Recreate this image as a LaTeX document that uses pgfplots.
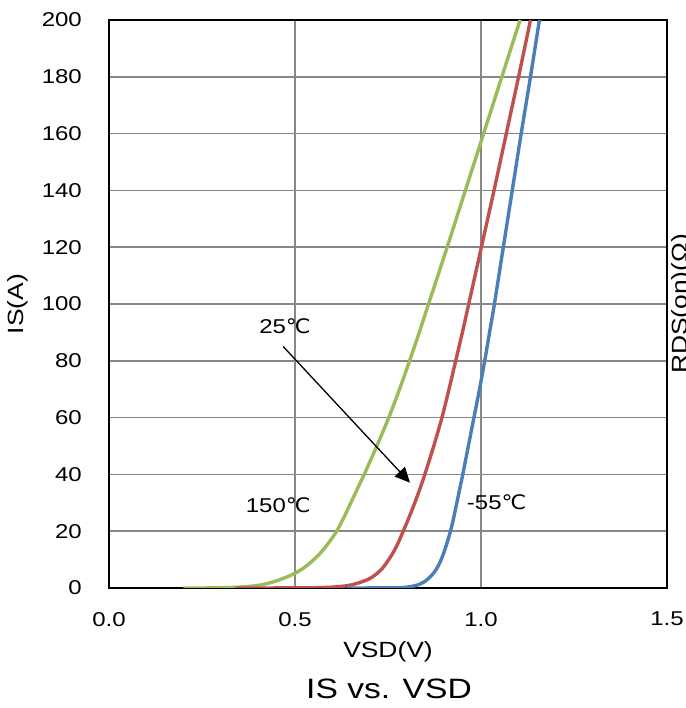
\documentclass[border=0pt]{standalone}
\usepackage{fontspec}
\setmainfont{Liberation Sans}[FakeStretch=1.2]
\newfontfamily\dejavu{DejaVu Sans}[FakeStretch=1.1]
\usepackage{pgfplots}
\pgfplotsset{compat=1.18}
\usetikzlibrary{arrows.meta}
\definecolor{cgreen}{HTML}{9BBB59}
\definecolor{cred}{HTML}{C0504D}
\definecolor{cblue}{HTML}{4A7EBB}
\definecolor{cgrid}{HTML}{878787}
\newcommand{\degC}{{\dejavu ℃}}
\begin{document}
\begin{tikzpicture}[font=\fontsize{20}{24}\selectfont]
\path[use as bounding box] (-109pt,-120pt) rectangle (576pt,588pt);
\begin{axis}[
  at={(0pt,0pt)}, anchor=south west,
  scale only axis, width=558pt, height=568pt,
  xmin=0, xmax=1.5, ymin=0, ymax=200,
  xtick={0,0.5,1,1.5}, ytick={0,20,...,200},
  grid=major, major grid style={cgrid, line width=1.6pt},
  axis line style={black, line width=1.8pt},
  major tick length=0pt, tick style={draw=none},
  /pgf/number format/assume math mode=true,
  ticklabel style={font=\fontsize{20}{24}\selectfont},
  x tick label style={anchor=north, inner sep=0pt, yshift=-24pt,
    /pgf/number format/.cd, fixed, fixed zerofill, precision=1, /tikz/.cd},
  y tick label style={anchor=east, inner sep=0pt, xshift=-27pt},
  every axis plot/.append style={line width=3.4pt, no markers, smooth, tension=0.5},
]
% 150 C
\addplot[cgreen] coordinates {
(0.20,0) (0.27,0.03) (0.35,0.3) (0.405,1) (0.45,2.5) (0.497,5) (0.533,8)
(0.566,12) (0.591,16) (0.612,20) (0.632,25) (0.650,30) (0.668,35) (0.686,40)
(0.720,50) (0.752,60) (0.781,70) (0.808,80) (0.834,90) (0.859,100)
(0.909,120) (0.958,140) (1.007,160) (1.056,180) (1.105,200)};
% 25 C
\addplot[cred] coordinates {
(0.34,0) (0.45,0.02) (0.55,0.1) (0.60,0.3) (0.64,0.8) (0.666,1.6) (0.702,3.4)
(0.732,6.5) (0.757,11) (0.774,15) (0.791,20) (0.807,25) (0.822,30) (0.836,35)
(0.849,40) (0.873,50) (0.895,60) (0.914,70) (0.932,80) (0.950,90) (0.967,100)
(1.001,120) (1.035,140) (1.068,160) (1.101,180) (1.133,200)};
% -55 C
\addplot[cblue] coordinates {
(0.64,0) (0.72,0.03) (0.78,0.1) (0.80,0.3) (0.828,1) (0.851,2.5) (0.871,5)
(0.886,8) (0.899,12) (0.909,16) (0.918,20) (0.927,25) (0.935,30) (0.943,35)
(0.951,40) (0.966,50) (0.981,60) (0.996,70) (1.010,80) (1.023,90) (1.036,100)
(1.060,120) (1.084,140) (1.108,160) (1.133,180) (1.157,200)};
\draw[-{Triangle[length=15pt,width=14pt]}, line width=1.3pt, black]
  (axis cs:0.4685,85) -- (axis cs:0.809,37.1);
\node[inner sep=0pt] at (axis cs:0.473,92.3) {25\degC};
\node[inner sep=0pt] at (axis cs:0.455,29.2) {150\degC};
\node[inner sep=0pt] at (axis cs:1.042,30.1) {-55\degC};
\end{axis}
\node[rotate=90, inner sep=0pt, font=\fontsize{22}{26}\selectfont] at (-91.5pt,284pt) {IS(A)};
\node[anchor=base, inner sep=0pt, font=\fontsize{22}{26}\selectfont] at (279pt,-69pt) {VSD(V)};
\node[anchor=base, inner sep=0pt, font=\fontsize{28}{32}\selectfont] at (280pt,-110pt) {IS vs. VSD};
\node[rotate=90, inner sep=0pt, font=\fontsize{22}{26}\selectfont] at (573pt,284pt) {RDS(on)(Ω)};
\end{tikzpicture}
\end{document}
